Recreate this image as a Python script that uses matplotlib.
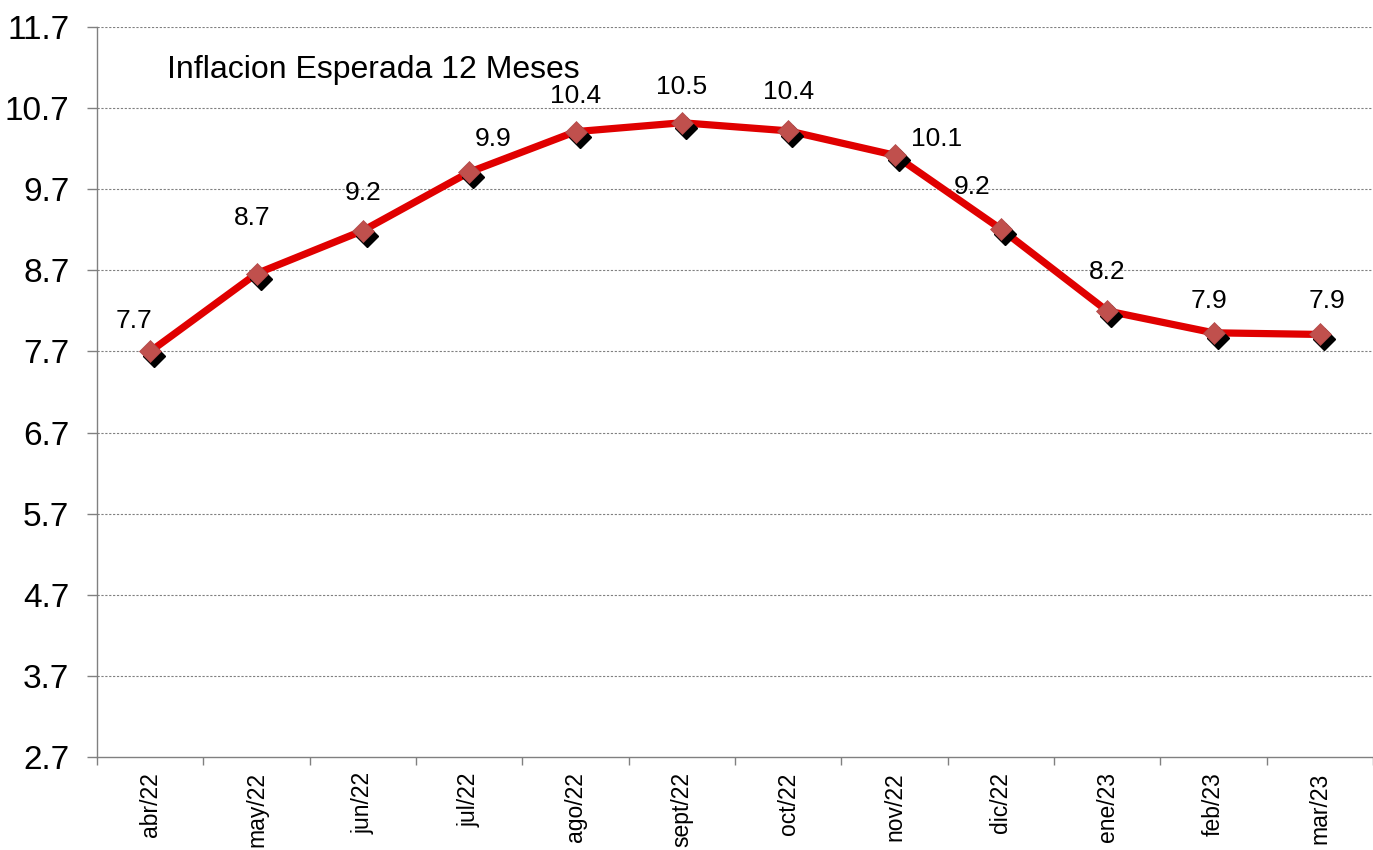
import matplotlib
matplotlib.use("Agg")
import matplotlib.pyplot as plt
import matplotlib.transforms as mtransforms

plt.rcParams['font.family'] = ['Liberation Sans', 'DejaVu Sans']

# Datos
meses = ['abr/22', 'may/22', 'jun/22', 'jul/22', 'ago/22', 'sept/22',
         'oct/22', 'nov/22', 'dic/22', 'ene/23', 'feb/23', 'mar/23']
inflacion = [7.70, 8.66, 9.19, 9.91, 10.41, 10.52, 10.42, 10.12, 9.21, 8.20, 7.93, 7.91]
etiquetas = ['7.7', '8.7', '9.2', '9.9', '10.4', '10.5', '10.4', '10.1', '9.2', '8.2', '7.9', '7.9']
y_ticks = [2.7, 3.7, 4.7, 5.7, 6.7, 7.7, 8.7, 9.7, 10.7, 11.7]

# desplazamiento de las etiquetas (puntos)
offsets = [(-11.5, 22), (-3.5, 40), (0, 27), (17, 24), (0, 26), (0, 26),
           (0, 28), (30, 12), (-21, 30), (0, 28), (-3, 23), (5, 24)]

fig = plt.figure(figsize=(13.73, 8.5), dpi=100)
ax = fig.add_axes([0.0707, 0.1094, 0.9293, 0.8588])

x = list(range(len(meses)))

ax.plot(x, inflacion, color='#E00000', linewidth=5.2, zorder=3, solid_capstyle='round')

# sombra de los marcadores
sombra = mtransforms.offset_copy(ax.transData, fig=fig, x=4, y=-5, units='dots')
ax.plot(x, inflacion, linestyle='none', marker='D', markersize=11.5,
        color='black', transform=sombra, zorder=4)
ax.plot(x, inflacion, linestyle='none', marker='D', markersize=11.5,
        markerfacecolor='#C0504D', markeredgecolor='#B04848', markeredgewidth=0.5, zorder=5)

for xi, yi, txt, off in zip(x, inflacion, etiquetas, offsets):
    ax.annotate(txt, (xi, yi), xytext=off, textcoords='offset points',
                ha='center', va='center', fontsize=19, color='black', zorder=6)

ax.set_ylim(2.7, 11.7)
ax.set_yticks(y_ticks)
ax.set_yticklabels([f'{v:.1f}' for v in y_ticks], fontsize=24)
ax.set_xlim(-0.5, len(meses) - 0.5)
ax.set_xticks(x)
ax.set_xticklabels(meses, rotation=90, fontsize=16.5)
ax.set_xticks([i - 0.5 for i in range(len(meses) + 1)], minor=True)
ax.tick_params(axis='x', which='major', length=0, pad=11)
ax.tick_params(axis='x', which='minor', length=6, color='#808080', width=1)
ax.tick_params(axis='y', length=7, color='#808080', width=1, pad=13)

for v in y_ticks[1:]:
    ax.axhline(v, color='#808080', linestyle=(0, (2, 1.5)), linewidth=0.8, zorder=1)

for s in ['top', 'right']:
    ax.spines[s].set_visible(False)
for s in ['left', 'bottom']:
    ax.spines[s].set_color('#808080')
    ax.spines[s].set_linewidth(1)

ax.text(0.055, 0.941, 'Inflacion Esperada 12 Meses', transform=ax.transAxes,
        fontsize=23, ha='left', va='center')

fig.savefig('out.png', dpi=100)
